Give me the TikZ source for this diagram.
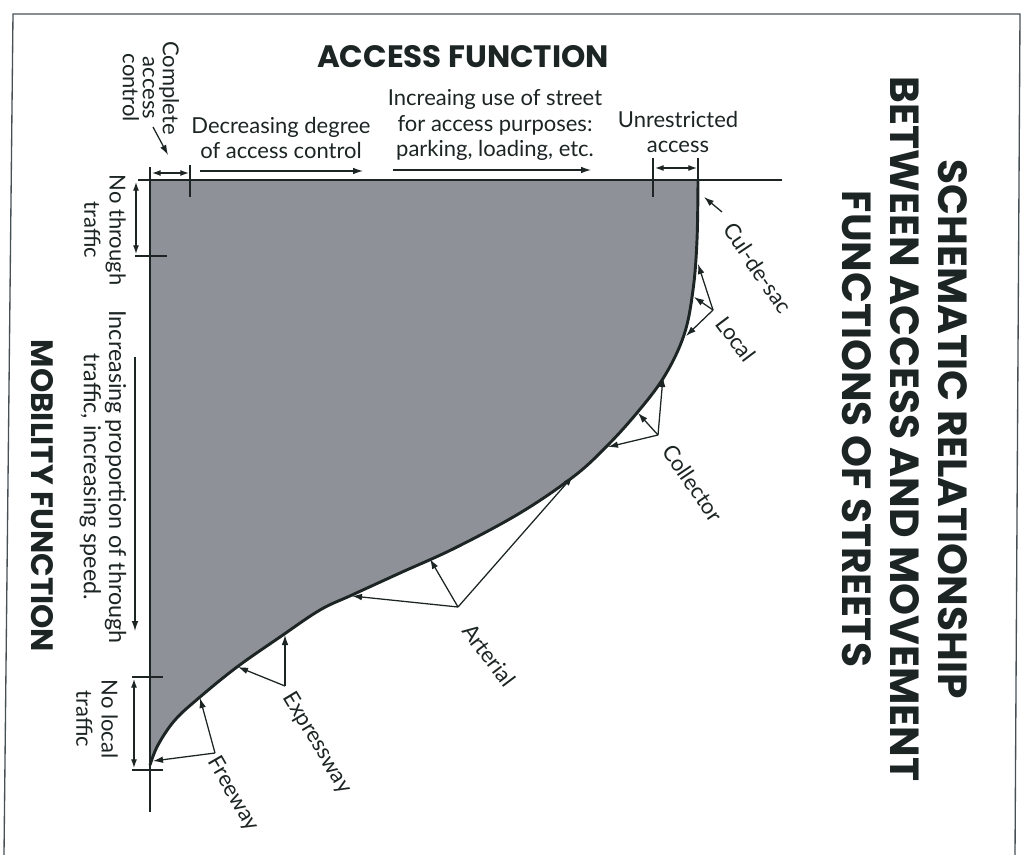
\documentclass[tikz,border=0pt]{standalone}
\usepackage{fontspec}
\setmainfont{Lato}
\newfontfamily\titlefont{Poppins}
\usetikzlibrary{arrows.meta}
\definecolor{ink}{RGB}{28,36,36}
\definecolor{areagray}{RGB}{142,146,152}
\definecolor{framegray}{RGB}{70,80,85}
\tikzset{
  axisline/.style={draw=ink, line width=2.2pt},
  tickline/.style={draw=ink, line width=1.9pt},
  arr/.style={draw=ink, line width=0.95pt, -{Latex[length=7.5pt,width=5pt]}},
  darr/.style={draw=ink, line width=0.95pt, {Latex[length=6.5pt,width=4.5pt]}-{Latex[length=6.5pt,width=4.5pt]}},
  lbl/.style={font=\fontsize{16.5}{19}\selectfont, align=center, inner sep=0pt, text=ink},
  heading/.style={font=\titlefont\bfseries\fontsize{23.2}{27}\selectfont, align=center, inner sep=0pt, text=ink},
  bigtitle/.style={font=\titlefont\bfseries\fontsize{30.5}{36}\selectfont, align=center, inner sep=0pt, text=ink}
}
\begin{document}
\begin{tikzpicture}[x=0.75pt,y=-0.75pt]
\useasboundingbox (0,0) rectangle (1027,855);
% frame
\draw[framegray, line width=1pt] (4,855) -- (13,14) -- (1020,14) -- (1015,855);
% shaded area
\fill[areagray] (150,180) -- plot[smooth, tension=0.6] coordinates {(698,180) (697,240) (693,290) (684,335) (664,377) (636,414) (605,448) (573,477) (520,513) (455,548) (400,573) (352,595) (320,610) (280,637) (237,667) (200,697) (175,720) (158,745) (150,765)} -- cycle;
\draw[axisline] plot[smooth, tension=0.6] coordinates {(698,180) (697,240) (693,290) (684,335) (664,377) (636,414) (605,448) (573,477) (520,513) (455,548) (400,573) (352,595) (320,610) (280,637) (237,667) (200,697) (175,720) (158,745) (150,765)};
% axes
\coordinate (vtop) at (150,167);
\coordinate (vbot) at (150,812);
\coordinate (hleft) at (138,180);
\coordinate (hright) at (782,180);
\draw[axisline] (vtop) -- (vbot);
\draw[axisline] (hleft) -- (hright);
% ticks
\coordinate (t1a) at (190,165); \coordinate (t1b) at (190,197);
\coordinate (t2a) at (653,158); \coordinate (t2b) at (653,197);
\coordinate (t3a) at (698,158); \coordinate (t3b) at (698,181);
\coordinate (t4a) at (135,256); \coordinate (t4b) at (167,256);
\coordinate (t5a) at (132,677); \coordinate (t5b) at (163,677);
\coordinate (t6a) at (132,770); \coordinate (t6b) at (163,770);
\draw[tickline] (t1a) -- (t1b);
\draw[tickline] (t2a) -- (t2b);
\draw[tickline] (t3a) -- (t3b);
\draw[tickline] (t4a) -- (t4b);
\draw[tickline] (t5a) -- (t5b);
\draw[tickline] (t6a) -- (t6b);
% dimension arrows
\coordinate (d1a) at (152,173); \coordinate (d1b) at (189,173);
\coordinate (d2a) at (655,168); \coordinate (d2b) at (697,168);
\coordinate (d3a) at (136,182); \coordinate (d3b) at (136,254);
\coordinate (d4a) at (134,679); \coordinate (d4b) at (134,768);
\draw[darr] (d1a) -- (d1b);
\draw[darr] (d2a) -- (d2b);
\draw[darr] (d3a) -- (d3b);
\draw[darr] (d4a) -- (d4b);
% long arrows
\coordinate (a1a) at (200,171); \coordinate (a1b) at (363,171);
\coordinate (a2a) at (393,170); \coordinate (a2b) at (591,170);
\coordinate (a3a) at (135,357); \coordinate (a3b) at (135,631);
\draw[arr] (a1a) -- (a1b);
\draw[arr] (a2a) -- (a2b);
\draw[arr] (a3a) -- (a3b);
% headings
\node[heading] (access) at (463,57) {ACCESS FUNCTION};
\node[heading, rotate=-90] (mobility) at (42,496) {MOBILITY FUNCTION};
\node[bigtitle, rotate=-90] (title) at (905,429) {SCHEMATIC RELATIONSHIP\\BETWEEN ACCESS AND MOVEMENT\\FUNCTIONS OF STREETS};
% top labels
\node[lbl, rotate=-90, font=\fontsize{16.5}{15}\selectfont] (complete) at (151,88) {Complete\\access\\control};
\node[lbl] (decr) at (281,138) {Decreasing degree\\of access control};
\node[lbl] (incr) at (495,125) {Increaing use of street\\for access purposes:\\parking, loading, etc.};
\node[lbl] (unres) at (678,132) {Unrestricted\\access};
% left labels
\node[lbl, rotate=-90] (nothrough) at (105,230) {No through\\traffic};
\node[lbl, rotate=-90, font=\fontsize{17.5}{19}\selectfont] (incprop) at (103,477) {Increasing proportion of through\\traffic, increasing speed.};
\node[lbl, rotate=-90] (nolocal) at (97,719) {No local\\traffic};
% complete access arrow
\coordinate (ca1) at (153,127); \coordinate (ca2) at (168,155);
\draw[arr] (ca1) -- (ca2);
% road labels
\node[lbl, rotate=-56] (culdesac) at (758,268) {Cul-de-sac};
\node[lbl, rotate=-53] (local) at (736,339) {Local};
\node[lbl, rotate=-56] (collector) at (693,483) {Collector};
\node[lbl, rotate=-53] (arterial) at (489,655) {Arterial};
\node[lbl, rotate=-59] (express) at (317,743) {Expressway};
\node[lbl, rotate=-60] (freeway) at (233,794) {Freeway};
% pointer sources
\coordinate (scul) at (722,212);
\coordinate (sloc) at (713,310);
\coordinate (scol) at (658,435);
\coordinate (sart) at (458,607);
\coordinate (sexp) at (285,686);
\coordinate (sfre) at (215,753);
% pointer targets
\coordinate (ecul) at (704,197);
\coordinate (eloc1) at (698,264); \coordinate (eloc2) at (694,297); \coordinate (eloc3) at (686,336);
\coordinate (ecol1) at (663,377); \coordinate (ecol2) at (638,413); \coordinate (ecol3) at (608,447);
\coordinate (eart1) at (573,476); \coordinate (eart2) at (430,559); \coordinate (eart3) at (352,596);
\coordinate (eexp1) at (285,635); \coordinate (eexp2) at (238,667);
\coordinate (efre1) at (200,698); \coordinate (efre2) at (153,761);
\draw[arr] (scul) -- (ecul);
\draw[arr] (sloc) -- (eloc1);
\draw[arr] (sloc) -- (eloc2);
\draw[arr] (sloc) -- (eloc3);
\draw[arr] (scol) -- (ecol1);
\draw[arr] (scol) -- (ecol2);
\draw[arr] (scol) -- (ecol3);
\draw[arr] (sart) -- (eart1);
\draw[arr] (sart) -- (eart2);
\draw[arr] (sart) -- (eart3);
\draw[arr] (sexp) -- (eexp1);
\draw[arr] (sexp) -- (eexp2);
\draw[arr] (sfre) -- (efre1);
\draw[arr] (sfre) -- (efre2);
\end{tikzpicture}
\end{document}
